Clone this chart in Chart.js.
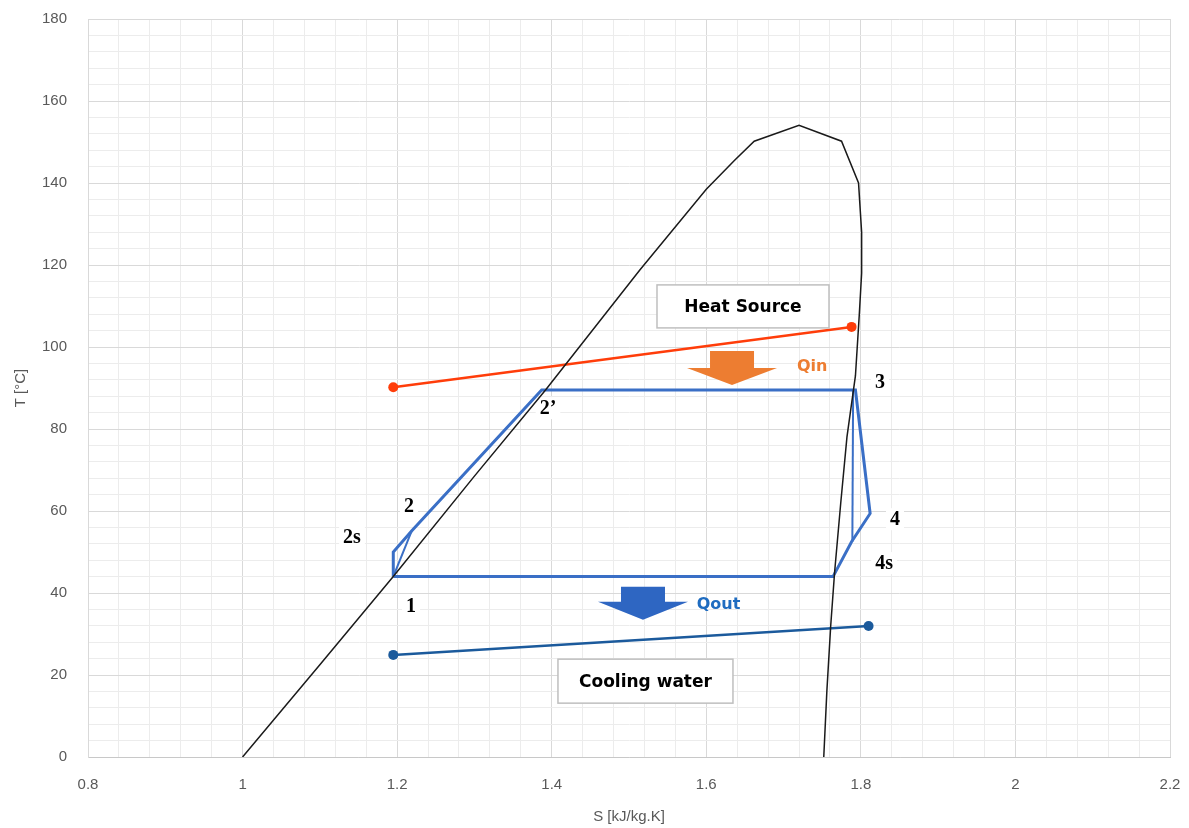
<!DOCTYPE html>
<html>
<head>
<meta charset="utf-8">
<script src="https://cdn.jsdelivr.net/npm/chart.js@4.4.1/dist/chart.umd.min.js"></script>
<style>
  body { margin: 0; background: #fff; }
  #tsChart { display: block; }
</style>
</head>
<body>
<canvas id="tsChart" width="1189" height="828"></canvas>
<script>
// saturation dome (liquid side up to the top, then vapour side down)
const satS = [1.0, 1.1, 1.195, 1.3, 1.392, 1.514, 1.6, 1.637, 1.662, 1.72, 1.775, 1.797, 1.801, 1.801, 1.798, 1.793, 1.782, 1.774, 1.766, 1.761, 1.756, 1.752];
const satT = [0, 22.5, 44, 68.5, 89.5, 118.8, 138.5, 145.6, 150.2, 154.1, 150.2, 140, 128, 118, 108, 93, 78, 62, 45, 32, 16, 0];

// cycle: 1 -> 2s -> 2 -> 2' -> 3 -> 4 -> 4s -> sat. vapour -> 1
const cycS = [1.195, 1.195, 1.219, 1.387, 1.793, 1.812, 1.788, 1.764, 1.195];
const cycT = [44, 50, 55.2, 89.5, 89.5, 59.4, 52.5, 44, 44];
// real compression 1 -> 2 and isentropic expansion 3 -> 4s
const compS = [1.195, 1.219];
const compT = [44, 55.2];
const expS = [1.790, 1.789];
const expT = [89.5, 52.5];

const hsS = [1.195, 1.788];
const hsT = [90.2, 104.9];
const cwS = [1.195, 1.810];
const cwT = [24.9, 31.95];

const xTicks = [0.8, 1, 1.2, 1.4, 1.6, 1.8, 2, 2.2];
const yTicks = [0, 20, 40, 60, 80, 100, 120, 140, 160, 180];

const pointLabels = ['1', '2s', '2', '2\u2019', '3', '4', '4s'];
const pointLabelS = [1.218, 1.1416, 1.2153, 1.3952, 1.8248, 1.8442, 1.830];
const pointLabelT = [36.8, 53.7, 61.2, 85.1, 91.5, 58.0, 47.3];

function pts(xs, ys) {
  return xs.map(function(x, i) { return {x: x, y: ys[i]}; });
}
function isMajor(v, step) {
  return xTicks.concat(yTicks).some(function(t) { return Math.abs(t - v) < 1e-6; }) && Math.abs(v / step - Math.round(v / step)) < 1e-6;
}

const gridMajor = '#d9d9d9';
const gridMinor = '#ececec';
const tickFont = { family: 'Liberation Sans', size: 15 };

const annotations = {
  id: 'annotations',
  beforeDatasetsDraw: function(chart) {
    const ctx = chart.ctx, xs = chart.scales.x, ys = chart.scales.y;
    ctx.save();
    ctx.font = 'bold 20px "Liberation Serif"';
    ctx.fillStyle = '#ffffff';
    pointLabels.forEach(function(t, i) {
      const px = xs.getPixelForValue(pointLabelS[i]);
      const py = ys.getPixelForValue(pointLabelT[i]);
      const w = ctx.measureText(t).width + 8;
      ctx.fillRect(px - w / 2, py - 11, w, 22);
    });
    ctx.restore();
  },
  afterDatasetsDraw: function(chart) {
    const ctx = chart.ctx, xs = chart.scales.x, ys = chart.scales.y;
    ctx.save();

    // text boxes
    function box(text, sx, ty, w, h) {
      const cx = xs.getPixelForValue(sx), cy = ys.getPixelForValue(ty);
      ctx.fillStyle = '#ffffff';
      ctx.strokeStyle = '#bfbfbf';
      ctx.lineWidth = 1.5;
      ctx.fillRect(cx - w / 2, cy - h / 2, w, h);
      ctx.strokeRect(cx - w / 2, cy - h / 2, w, h);
      ctx.fillStyle = '#000000';
      ctx.font = 'bold 17px "DejaVu Sans"';
      ctx.textAlign = 'center';
      ctx.textBaseline = 'middle';
      ctx.fillText(text, cx, cy + 1);
    }
    box('Heat Source', 1.6475, 109.9, 172, 43);
    box('Cooling water', 1.5213, 18.5, 175, 44);

    // heat flow arrows
    function arrow(sx, tTop, color, shaftH, headH) {
      const cx = xs.getPixelForValue(sx), top = ys.getPixelForValue(tTop);
      ctx.fillStyle = color;
      ctx.beginPath();
      ctx.moveTo(cx - 22, top);
      ctx.lineTo(cx + 22, top);
      ctx.lineTo(cx + 22, top + shaftH);
      ctx.lineTo(cx + 45, top + shaftH);
      ctx.lineTo(cx, top + shaftH + headH);
      ctx.lineTo(cx - 45, top + shaftH);
      ctx.lineTo(cx - 22, top + shaftH);
      ctx.closePath();
      ctx.fill();
    }
    arrow(1.6333, 99.0, '#ED7D31', 17, 17);
    arrow(1.5181, 41.5, '#2E66C2', 15, 18);

    ctx.font = 'bold 16px "DejaVu Sans"';
    ctx.textAlign = 'left';
    ctx.textBaseline = 'middle';
    ctx.fillStyle = '#ED7D31';
    ctx.fillText('Qin', xs.getPixelForValue(1.7174), ys.getPixelForValue(95.1));
    ctx.fillStyle = '#1F6CC0';
    ctx.fillText('Qout', xs.getPixelForValue(1.5876), ys.getPixelForValue(37.2));

    // state point labels
    ctx.font = 'bold 20px "Liberation Serif"';
    ctx.textAlign = 'center';
    ctx.fillStyle = '#000000';
    pointLabels.forEach(function(t, i) {
      ctx.fillText(t, xs.getPixelForValue(pointLabelS[i]), ys.getPixelForValue(pointLabelT[i]) + 1);
    });
    ctx.restore();
  }
};

const tsChart = new Chart(document.getElementById('tsChart'), {
  type: 'scatter',
  data: {
    datasets: [
      { label: 'Saturation', data: pts(satS, satT), showLine: true, borderColor: '#1a1a1a', borderWidth: 1.5, pointRadius: 0, tension: 0 },
      { label: 'Heat source', data: pts(hsS, hsT), showLine: true, borderColor: '#FF3D0A', backgroundColor: '#FF3D0A', borderWidth: 2.5, pointRadius: 5, pointBorderWidth: 0 },
      { label: 'Cooling water', data: pts(cwS, cwT), showLine: true, borderColor: '#1B5A9C', backgroundColor: '#1B5A9C', borderWidth: 2.5, pointRadius: 5, pointBorderWidth: 0 },
      { label: 'Cycle', data: pts(cycS, cycT), showLine: true, borderColor: '#3A6FC6', borderWidth: 3, pointRadius: 0, tension: 0 },
      { label: '1-2', data: pts(compS, compT), showLine: true, borderColor: '#3A6FC6', borderWidth: 2, pointRadius: 0 },
      { label: '3-4s', data: pts(expS, expT), showLine: true, borderColor: '#3A6FC6', borderWidth: 2, pointRadius: 0 }
    ]
  },
  options: {
    responsive: false,
    animation: false,
    devicePixelRatio: 1,
    layout: { padding: { top: 19, right: 19, left: 0, bottom: 0 } },
    plugins: {
      legend: { display: false },
      tooltip: { enabled: false }
    },
    scales: {
      x: {
        type: 'linear',
        min: 0.8,
        max: 2.2,
        afterFit: function(scale) {
          scale.height = 71;
          scale.paddingLeft = 0;
          scale.paddingRight = 0;
        },
        border: { color: '#c8c8c8' },
        grid: {
          drawTicks: false,
          color: function(c) { return c.tick && isMajor(c.tick.value, 0.2) ? gridMajor : gridMinor; }
        },
        ticks: {
          stepSize: 0.04,
          autoSkip: false,
          maxRotation: 0,
          padding: 19,
          color: '#595959',
          font: tickFont,
          callback: function(v) { return isMajor(v, 0.2) ? String(Number(v.toFixed(1))) : ''; }
        },
        title: { display: true, text: 'S [kJ/kg.K]', color: '#595959', font: tickFont, padding: { top: 0, bottom: 2 } }
      },
      y: {
        type: 'linear',
        min: 0,
        max: 180,
        afterFit: function(scale) {
          scale.width = 88;
          scale.paddingTop = 0;
          scale.paddingBottom = 0;
        },
        border: { color: gridMajor },
        grid: {
          drawTicks: false,
          color: function(c) { return c.tick && isMajor(c.tick.value, 20) ? gridMajor : gridMinor; }
        },
        ticks: {
          stepSize: 4,
          autoSkip: false,
          padding: 21,
          color: '#595959',
          font: tickFont,
          callback: function(v) { return isMajor(v, 20) ? String(v) : ''; }
        },
        title: { display: true, text: 'T [\u00B0C]', color: '#595959', font: tickFont, padding: { top: 12, bottom: 0 } }
      }
    }
  },
  plugins: [annotations]
});
</script>
</body>
</html>
